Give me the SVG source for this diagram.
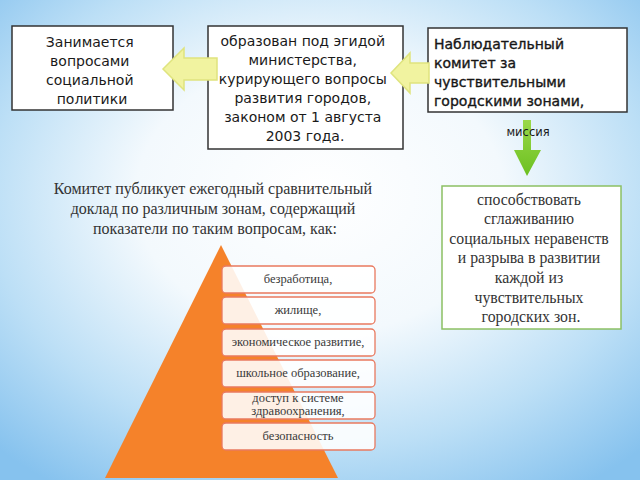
<svg xmlns="http://www.w3.org/2000/svg" width="640" height="480" viewBox="0 0 640 480">
<defs>
<radialGradient id="bg" cx="0.5" cy="0.42" r="0.72" fx="0.5" fy="0.4">
<stop offset="0" stop-color="#ffffff"/>
<stop offset="0.4" stop-color="#f3f9fd"/>
<stop offset="0.72" stop-color="#bcdff6"/>
<stop offset="1" stop-color="#86c2ee"/>
</radialGradient>
<linearGradient id="green" x1="0" y1="0" x2="0" y2="1">
<stop offset="0" stop-color="#9ad84a"/>
<stop offset="1" stop-color="#6cc020"/>
</linearGradient>
<style>
.box{fill:#ffffff;stroke:#333333;stroke-width:1.5}
.gbox{fill:#ffffff;stroke:#8cc063;stroke-width:1.5}
.sans{font-family:"DejaVu Sans","Liberation Sans",sans-serif;font-size:14px;fill:#1a1a1a}
.serif{font-family:"Liberation Serif","DejaVu Serif",serif;fill:#333333}
.yarrow{fill:#f1f3a0;stroke:#dfe47e;stroke-width:1.5}
.item{fill:#ffffff;fill-opacity:0.88;stroke:#e9795f;stroke-width:1.3}
.itxt{font-family:"Liberation Serif","DejaVu Serif",serif;font-size:12.5px;fill:#3a3a3a;text-anchor:middle}
</style>
</defs>
<rect x="0" y="0" width="640" height="480" fill="url(#bg)"/>

<g id="box1">
<rect class="box" x="12" y="26" width="161" height="84"/>
<text class="sans" text-anchor="middle">
<tspan x="92" y="47">Занимается</tspan>
<tspan x="92" y="66">вопросами</tspan>
<tspan x="92" y="85">социальной</tspan>
<tspan x="92" y="104">политики</tspan>
</text>
</g>

<g id="box2">
<rect class="box" x="208" y="26" width="195" height="123"/>
<text class="sans" text-anchor="middle" font-size="13.5">
<tspan x="305" y="46">образован под эгидой</tspan>
<tspan x="305" y="65">министерства,</tspan>
<tspan x="305" y="84">курирующего вопросы</tspan>
<tspan x="305" y="103">развития городов,</tspan>
<tspan x="305" y="122">законом от 1 августа</tspan>
<tspan x="305" y="141">2003 года.</tspan>
</text>
</g>

<g id="box3">
<rect class="box" x="428" y="28" width="199" height="84"/>
<text class="sans" font-size="14.5" fill="#111111" stroke="#111111" stroke-width="0.35">
<tspan x="434" y="49">Наблюдательный</tspan>
<tspan x="434" y="68">комитет за</tspan>
<tspan x="434" y="87">чувствительными</tspan>
<tspan x="434" y="106">городскими зонами,</tspan>
</text>
</g>

<g id="box4">
<rect class="gbox" x="442" y="186" width="179" height="143"/>
<text class="serif" font-size="15.8" text-anchor="middle">
<tspan x="531" y="205">способствовать</tspan>
<tspan x="531" y="224">сглаживанию</tspan>
<tspan x="531" y="244">социальных неравенств</tspan>
<tspan x="531" y="263">и разрыва в развитии</tspan>
<tspan x="531" y="283">каждой из</tspan>
<tspan x="531" y="303">чувствительных</tspan>
<tspan x="531" y="322">городских зон.</tspan>
</text>
</g>

<g id="connectors">
<polygon class="yarrow" points="163,69 184,48 184,58 217,58 217,80 184,80 184,90"/>
<polygon class="yarrow" points="391,73 410,53 410,63 429,63 429,83 410,83 410,93"/>
<polygon fill="url(#green)" points="523,120 531,120 531,150 541,150 527,176 514,150 523,150"/>
<text x="528" y="136" font-family="DejaVu Sans, sans-serif" font-size="11.5" fill="#1a1a1a" text-anchor="middle">миссия</text>
</g>

<g id="para">
<text class="serif" font-size="16" text-anchor="middle" fill="#2a2a2a">
<tspan x="215" y="194">Комитет публикует ежегодный сравнительный</tspan>
<tspan x="215" y="214">доклад по различным зонам, содержащий</tspan>
<tspan x="215" y="234">показатели по таким вопросам, как:</tspan>
</text>
</g>

<g id="pyramid">
<polygon points="221,245 338,478 105,478" fill="#f5822a"/>
</g>

<g id="item1"><rect class="item" x="222" y="266" width="153" height="27" rx="4"/><text class="itxt" x="298" y="283">безработица,</text></g>
<g id="item2"><rect class="item" x="222" y="297" width="153" height="27" rx="4"/><text class="itxt" x="298" y="314">жилище,</text></g>
<g id="item3"><rect class="item" x="222" y="329" width="153" height="27" rx="4"/><text class="itxt" x="298" y="346">экономическое развитие,</text></g>
<g id="item4"><rect class="item" x="222" y="360" width="153" height="27" rx="4"/><text class="itxt" x="298" y="377">школьное образование,</text></g>
<g id="item5"><rect class="item" x="222" y="392" width="153" height="27" rx="4"/><text class="itxt" x="298" y="402" font-size="9.5">доступ к системе</text><text class="itxt" x="298" y="415" font-size="9.5">здравоохранения,</text></g>
<g id="item6"><rect class="item" x="222" y="423" width="153" height="27" rx="4"/><text class="itxt" x="298" y="440">безопасность</text></g>
</svg>
